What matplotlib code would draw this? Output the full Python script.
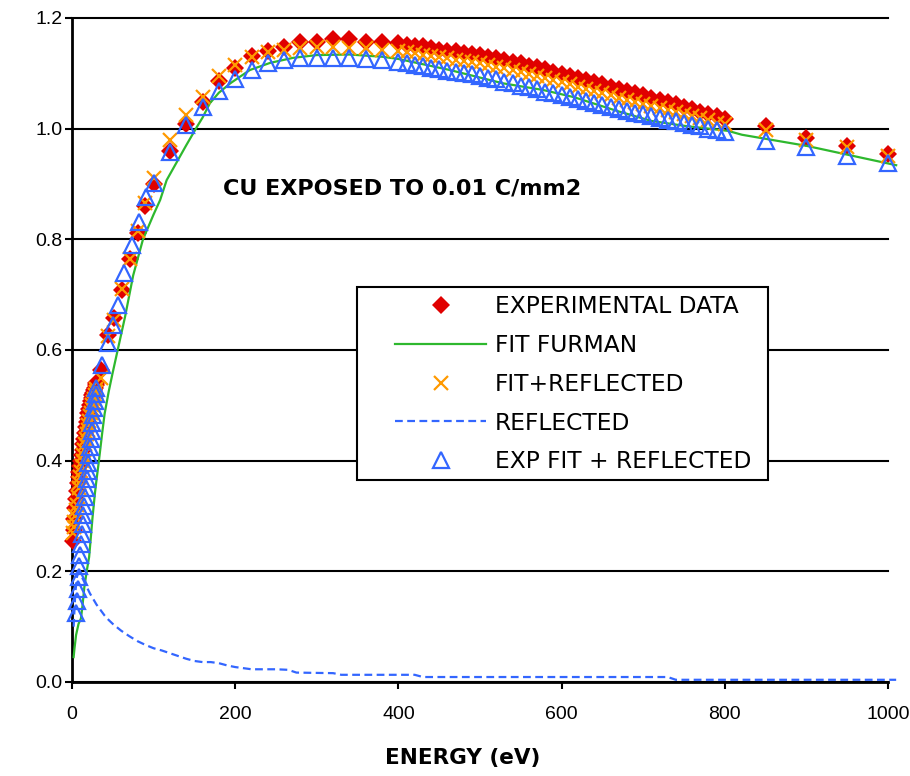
import matplotlib
matplotlib.use('Agg')
import matplotlib.pyplot as plt
from matplotlib.patches import Rectangle

plt.rcParams['font.family'] = ['DejaVu Sans']

# experimental data (red diamonds) and FIT+REFLECTED (orange crosses) share energies
exp_energy = [1, 2, 3, 4, 5, 6, 7, 8, 9, 10, 11, 12, 13, 14, 15, 16, 17, 18, 19, 20,
              21, 22, 23, 24, 25, 26, 27, 28, 29, 30,
              36, 44, 52, 61, 71, 81, 90, 100, 120, 140, 160, 180, 200, 220, 240, 260,
              280, 300, 320, 340, 360, 380,
              400, 410, 420, 430, 440, 450, 460, 470, 480, 490, 500, 510, 520, 530, 540,
              550, 560, 570, 580, 590, 600, 610, 620, 630, 640, 650, 660, 670, 680, 690,
              700, 710, 720, 730, 740, 750, 760, 770, 780, 790, 800, 850, 900, 950, 1000]
exp_data = [0.255, 0.275, 0.295, 0.315, 0.33, 0.345, 0.36, 0.37, 0.38, 0.39, 0.40, 0.41,
            0.42, 0.43, 0.44, 0.45, 0.46, 0.47, 0.478, 0.486, 0.494, 0.50, 0.507, 0.513,
            0.518, 0.523, 0.528, 0.532, 0.536, 0.54,
            0.564, 0.627, 0.657, 0.708, 0.765, 0.812, 0.86, 0.90, 0.96, 1.009, 1.048,
            1.087, 1.11, 1.131, 1.14, 1.148, 1.156, 1.157, 1.162, 1.162, 1.157, 1.157,
            1.155, 1.152, 1.150, 1.149, 1.145, 1.143, 1.141, 1.140, 1.137, 1.135, 1.133,
            1.130, 1.127, 1.124, 1.121, 1.118, 1.114, 1.111, 1.107, 1.103, 1.099, 1.096,
            1.092, 1.088, 1.084, 1.080, 1.076, 1.072, 1.068, 1.064, 1.060, 1.056, 1.052,
            1.048, 1.044, 1.040, 1.036, 1.031, 1.027, 1.022, 1.018, 1.005, 0.983, 0.969,
            0.955]
fit_refl = [0.27, 0.28, 0.29, 0.30, 0.31, 0.32, 0.335, 0.35, 0.36, 0.37, 0.38, 0.39,
            0.40, 0.41, 0.42, 0.43, 0.44, 0.448, 0.456, 0.464, 0.472, 0.48, 0.487, 0.494,
            0.50, 0.506, 0.512, 0.518, 0.524, 0.53,
            0.549, 0.625, 0.655, 0.71, 0.765, 0.815, 0.865, 0.91, 0.98, 1.024, 1.057,
            1.095, 1.115, 1.13, 1.138, 1.143, 1.145, 1.147, 1.147, 1.146, 1.145, 1.142,
            1.140, 1.138, 1.136, 1.134, 1.132, 1.130, 1.127, 1.125, 1.122, 1.120, 1.118,
            1.115, 1.112, 1.109, 1.106, 1.103, 1.099, 1.096, 1.092, 1.088, 1.084, 1.080,
            1.076, 1.072, 1.068, 1.064, 1.060, 1.056, 1.052, 1.048, 1.045, 1.041, 1.037,
            1.034, 1.030, 1.027, 1.023, 1.019, 1.015, 1.011, 1.008, 0.998, 0.980, 0.967,
            0.951]

# EXP FIT + REFLECTED (blue open triangles)
tri_energy = [5, 6, 7, 8, 9, 10, 11, 12, 13, 14, 15, 16, 17, 18, 19, 20, 21, 22, 23, 24,
              25, 26, 27, 28, 29, 30,
              37, 44, 50, 56, 64, 73, 82, 91, 100,
              120, 140, 160, 180, 200, 220, 240, 260, 280, 300, 320, 340, 360, 380,
              400, 410, 420, 430, 440, 450, 460, 470, 480, 490, 500, 510, 520, 530, 540,
              550, 560, 570, 580, 590, 600, 610, 620, 630, 640, 650, 660, 670, 680, 690,
              700, 710, 720, 730, 740, 750, 760, 770, 780, 790, 800, 850, 900, 950, 1000]
exp_fit_refl = [0.125, 0.147, 0.168, 0.19, 0.21, 0.23, 0.25, 0.268, 0.285, 0.302, 0.318,
                0.334, 0.35, 0.366, 0.381, 0.396, 0.411, 0.425, 0.44, 0.454, 0.468, 0.482,
                0.495, 0.508, 0.52, 0.532,
                0.573, 0.613, 0.645, 0.681, 0.739, 0.79, 0.832, 0.877, 0.902,
                0.958, 1.007, 1.04, 1.068, 1.09, 1.106, 1.118, 1.124, 1.128, 1.128, 1.128,
                1.128, 1.126, 1.125,
                1.120, 1.118, 1.115, 1.113, 1.110, 1.108, 1.105, 1.103, 1.100, 1.098,
                1.095, 1.092, 1.089, 1.085, 1.082, 1.078, 1.075, 1.071, 1.067, 1.064,
                1.060, 1.057, 1.053, 1.050, 1.046, 1.042, 1.039, 1.036, 1.032, 1.029,
                1.026, 1.023, 1.019, 1.016, 1.013, 1.010, 1.007, 1.004, 1.000, 0.997,
                0.994, 0.978, 0.966, 0.951, 0.938]

# FIT FURMAN (green line)
fit_energy = [2, 3, 5, 8, 11, 13, 15, 18, 21, 23, 25, 28, 30, 33, 37, 40, 45, 50, 56, 65,
              75, 87, 100, 108, 116, 132, 140, 153, 160, 169, 180, 194, 218, 243, 271,
              300, 340, 380, 400, 463, 528, 577, 615, 668, 710, 751, 804, 821, 900, 969,
              1010]
fit_furman = [0.045, 0.06, 0.085, 0.105, 0.115, 0.14, 0.17, 0.2, 0.226, 0.26, 0.295,
              0.34, 0.365, 0.4, 0.45, 0.485, 0.525, 0.56, 0.6, 0.66, 0.735, 0.8, 0.845,
              0.871, 0.907, 0.949, 0.97, 1.003, 1.02, 1.046, 1.065, 1.082, 1.106, 1.119,
              1.128, 1.133, 1.134, 1.13, 1.126, 1.106, 1.082, 1.07, 1.057, 1.032, 1.014,
              1.005, 0.996, 0.989, 0.969, 0.947, 0.934]

# REFLECTED (blue dashed line)
refl_energy = [2, 4, 6, 8, 10, 12, 14, 16, 18, 20, 22, 24, 26, 28, 30,
               35, 40, 45, 50, 55, 60, 65, 70,
               80, 90, 100, 110, 120, 130, 140, 150, 160, 170, 180, 190, 200, 210, 220,
               250, 265, 275, 320, 330, 420, 430, 730, 740, 1010]
reflected = [0.10, 0.16, 0.19, 0.198, 0.195, 0.19, 0.184, 0.178, 0.172, 0.166, 0.16,
             0.155, 0.15, 0.145, 0.14,
             0.13, 0.12, 0.112, 0.105, 0.099, 0.093, 0.088, 0.083,
             0.074, 0.067, 0.061, 0.057, 0.052, 0.047, 0.042, 0.038, 0.036, 0.036, 0.034,
             0.030, 0.027, 0.025, 0.023,
             0.023, 0.022, 0.017, 0.016, 0.013, 0.013, 0.009, 0.009, 0.004, 0.004]

y_ticks = [0.0, 0.2, 0.4, 0.6, 0.8, 1.0, 1.2]
x_ticks = [0, 200, 400, 600, 800, 1000]

fig = plt.figure(figsize=(9.1, 7.76), dpi=100)
ax = fig.add_axes([72 / 910, 1 - 682 / 776, 816 / 910, 664 / 776])

ax.plot(exp_energy, exp_data, linestyle='none', marker='D', ms=9, color='#e00000',
        mew=0, label='EXPERIMENTAL DATA', clip_on=False, zorder=3)
ax.plot(fit_energy, fit_furman, color='#2eb82e', lw=1.6, label='FIT FURMAN',
        clip_on=False, zorder=4)
ax.plot(exp_energy, fit_refl, linestyle='none', marker='x', ms=9.5, mew=1.6,
        color='#ff9900', label='FIT+REFLECTED', clip_on=False, zorder=5)
ax.plot(refl_energy, reflected, color='#3366ff', lw=1.6, linestyle=(0, (3.5, 2)),
        label='REFLECTED', clip_on=False, zorder=6)
ax.plot(tri_energy, exp_fit_refl, linestyle='none', marker='^', ms=11, mew=1.6,
        mfc='none', mec='#3366ff', label='EXP FIT + REFLECTED', clip_on=False, zorder=7)

ax.set_xlim(0, 1000)
ax.set_ylim(0, 1.2)
ax.set_xticks(x_ticks)
ax.set_yticks(y_ticks)
ax.set_yticklabels(['%.1f' % v for v in y_ticks])
ax.tick_params(axis='both', direction='out', length=5, width=1.5, labelsize=14)
ax.tick_params(axis='x', pad=12)
ax.tick_params(axis='y', pad=2)
for lab in ax.get_xticklabels() + ax.get_yticklabels():
    lab.set_family('Liberation Sans')

ax.grid(axis='y', color='black', lw=1.5, zorder=0)
for gl in ax.get_ygridlines():
    gl.set_clip_on(False)
ax.spines['top'].set_visible(False)
ax.spines['right'].set_visible(False)
ax.spines['left'].set_linewidth(2)
ax.spines['bottom'].set_linewidth(2)

ax.text(185, 0.891, 'CU EXPOSED TO 0.01 C/mm2', fontsize=16, fontweight='bold',
        va='center', ha='left')
fig.text(463 / 910, 1 - 758 / 776, 'ENERGY (eV)', fontsize=15.5, fontweight='bold',
         ha='center', va='center')

# legend box drawn separately so the entries can sit with Excel-like left padding
ax.add_patch(Rectangle((357 / 910, 1 - 480 / 776), 411 / 910, 193 / 776,
                       transform=fig.transFigure, facecolor='white',
                       edgecolor='black', lw=1.5, zorder=8, clip_on=False))
leg = ax.legend(loc='upper left', bbox_to_anchor=((395 - 72) / 816, (682 - 295) / 664),
                frameon=False, fontsize=16.8, handlelength=3.9, handletextpad=0.38,
                borderpad=0, borderaxespad=0, labelspacing=0.68)
leg.set_zorder(9)

fig.savefig('out.png', dpi=100)
